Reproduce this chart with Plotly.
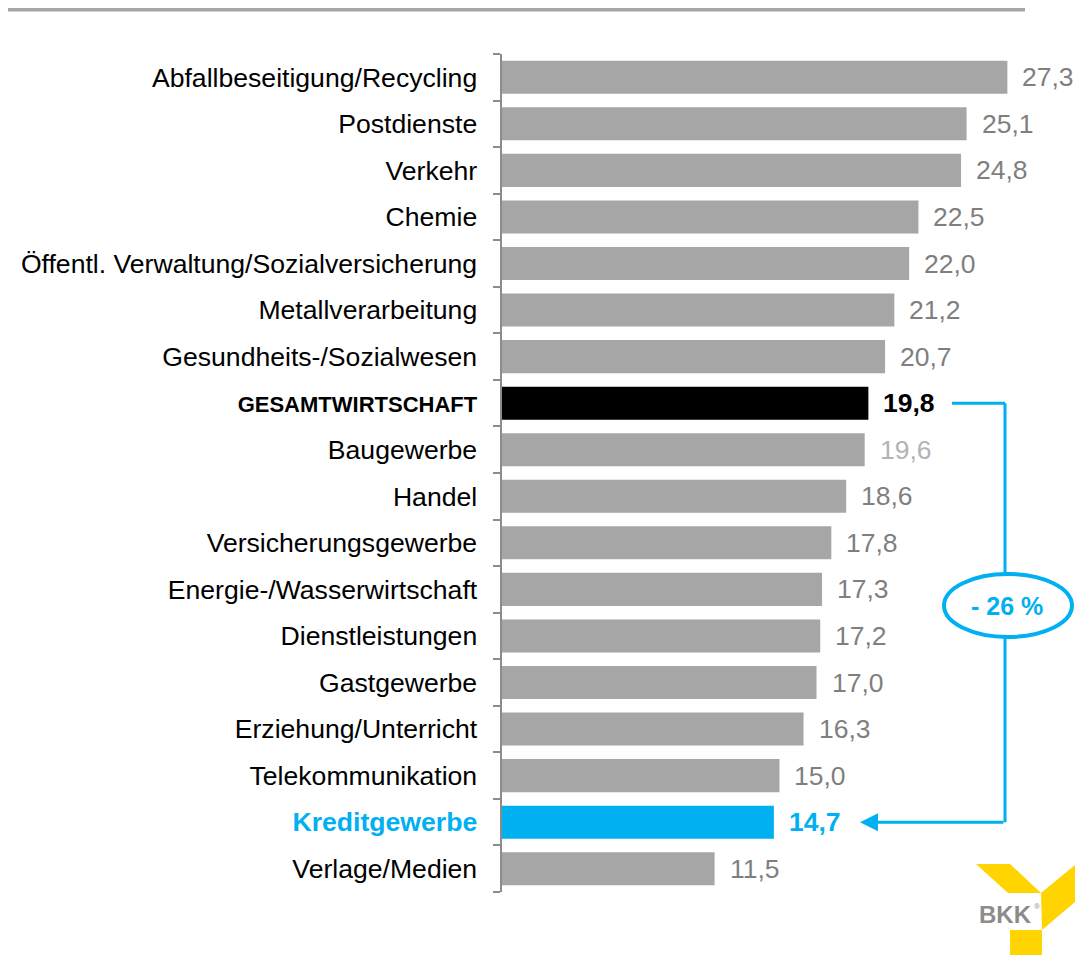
import plotly.graph_objects as go

# --- Data ---
categories = [
    "Abfallbeseitigung/Recycling", "Postdienste", "Verkehr", "Chemie",
    "Öffentl. Verwaltung/Sozialversicherung", "Metallverarbeitung",
    "Gesundheits-/Sozialwesen", "GESAMTWIRTSCHAFT", "Baugewerbe", "Handel",
    "Versicherungsgewerbe", "Energie-/Wasserwirtschaft", "Dienstleistungen",
    "Gastgewerbe", "Erziehung/Unterricht", "Telekommunikation",
    "Kreditgewerbe", "Verlage/Medien",
]
values = [27.3, 25.1, 24.8, 22.5, 22.0, 21.2, 20.7, 19.8, 19.6, 18.6,
          17.8, 17.3, 17.2, 17.0, 16.3, 15.0, 14.7, 11.5]
diff_label = "- 26 %"
# ---------------------

# page body has an 8px margin, so the figure is a bit smaller than the window
OFF = 8
W, H = 1091 - 2 * OFF, 963 - 2 * OFF
GRAY = "#a6a6a6"
BLUE = "#00b0f0"
TOTAL = "GESAMTWIRTSCHAFT"
HIGHLIGHT = "Kreditgewerbe"
FONT = "Liberation Sans, Arial, sans-serif"

PX_PER_UNIT = 18.53
X0_PX = 501.5
PLOT_TOP, PLOT_BOT = 54, 892


# window pixel -> paper coords
def px(x):
    return (x - OFF) / W


def py(y):
    return 1 - (y - OFF) / H


def xdata(x_px):
    return (x_px - X0_PX) / PX_PER_UNIT


bar_colors = []
tick_text = []
for c in categories:
    if c == TOTAL:
        bar_colors.append("#000000")
        tick_text.append("<span style=\"font-size:22px\"><b>" + c + "</b></span>")
    elif c == HIGHLIGHT:
        bar_colors.append(BLUE)
        tick_text.append("<span style=\"color:" + BLUE + "\"><b>" + c + "</b></span>")
    else:
        bar_colors.append(GRAY)
        tick_text.append(c)

fig = go.Figure()
fig.add_trace(go.Bar(
    x=values, y=categories, orientation="h",
    marker=dict(color=bar_colors, line=dict(width=0)),
    hoverinfo="skip",
))

# value labels
for c, v in zip(categories, values):
    txt = f"{v:.1f}".replace(".", ",")
    color = "#7f7f7f"
    if c == TOTAL:
        txt, color = "<b>" + txt + "</b>", "#000000"
    elif c == HIGHLIGHT:
        txt, color = "<b>" + txt + "</b>", BLUE
    elif c == "Baugewerbe":
        color = "#b3b3b3"
    fig.add_annotation(x=v, y=c, text=txt, showarrow=False, xanchor="left",
                       xshift=13, font=dict(size=26.5, color=color, family=FONT))

shapes = []
# top rule (sits at the very top edge of the figure)
shapes.append(dict(type="rect", xref="paper", yref="paper",
                   x0=0, x1=px(1025), y0=py(8), y1=py(11.5),
                   fillcolor=GRAY, line=dict(width=0)))

# bracket: total -> highlight
xv = xdata(1005)
shapes.append(dict(type="line", xref="x", yref="y", x0=xdata(952), x1=xv,
                   y0=TOTAL, y1=TOTAL, line=dict(color=BLUE, width=3)))
shapes.append(dict(type="line", xref="x", yref="y", x0=xv, x1=xv,
                   y0=TOTAL, y1=HIGHLIGHT, line=dict(color=BLUE, width=3)))
fig.add_annotation(x=xdata(860), y=HIGHLIGHT, ax=xv, ay=HIGHLIGHT,
                   axref="x", ayref="y", xref="x", yref="y", text="",
                   showarrow=True, arrowhead=2, arrowsize=1.2, arrowwidth=3,
                   arrowcolor=BLUE)
shapes.append(dict(type="circle", xref="paper", yref="paper",
                   x0=px(944), x1=px(1072), y0=py(574), y1=py(637),
                   fillcolor="white", line=dict(color=BLUE, width=4)))
fig.add_annotation(x=px(1007), y=py(606), xref="paper", yref="paper",
                   xanchor="center", yanchor="middle",
                   text="<b>" + diff_label + "</b>", showarrow=False,
                   font=dict(size=25, color=BLUE, family=FONT))

# BKK logo
YEL = "#ffd400"


def poly(pts):
    d = "M " + " L ".join(f"{px(a):.5f} {py(b):.5f}" for a, b in pts) + " Z"
    return dict(type="path", xref="paper", yref="paper", path=d,
                fillcolor=YEL, line=dict(width=0))


shapes.append(poly([(976, 864), (1010, 864), (1041, 893), (1008, 893)]))
shapes.append(poly([(1041, 893), (1075, 865), (1075, 902), (1042, 930)]))
shapes.append(poly([(1010, 930), (1042, 930), (1042, 960), (1010, 960)]))
fig.add_annotation(x=px(1005), y=py(914), xref="paper", yref="paper",
                   xanchor="center", yanchor="middle",
                   text="<b>BKK</b>", showarrow=False,
                   font=dict(size=24, color="#8c8c8c", family=FONT))
fig.add_annotation(x=px(1037), y=py(906), xref="paper", yref="paper",
                   xanchor="center", yanchor="middle",
                   text="®", showarrow=False,
                   font=dict(size=8, color="#8c8c8c", family=FONT))

fig.update_layout(
    width=W, height=H,
    margin=dict(l=0, r=0, t=0, b=0),
    paper_bgcolor="white", plot_bgcolor="white",
    shapes=shapes, showlegend=False, bargap=0.29,
    font=dict(family=FONT, size=26, color="#000000"),
)
fig.update_xaxes(domain=[px(X0_PX), 1], range=[0, xdata(1091 - OFF)],
                 visible=False, fixedrange=True)
fig.update_yaxes(domain=[py(PLOT_BOT), py(PLOT_TOP)],
                 categoryorder="array", categoryarray=categories,
                 tickvals=categories, ticktext=tick_text,
                 autorange="reversed", tickson="boundaries",
                 ticks="outside", ticklen=7, tickwidth=2, tickcolor="#8c8c8c",
                 showline=True, linecolor="#8c8c8c", linewidth=2,
                 showgrid=False, ticklabelstandoff=17, automargin=False,
                 tickfont=dict(size=26.6, color="#000000", family=FONT),
                 fixedrange=True)

fig.write_html("out.html")
